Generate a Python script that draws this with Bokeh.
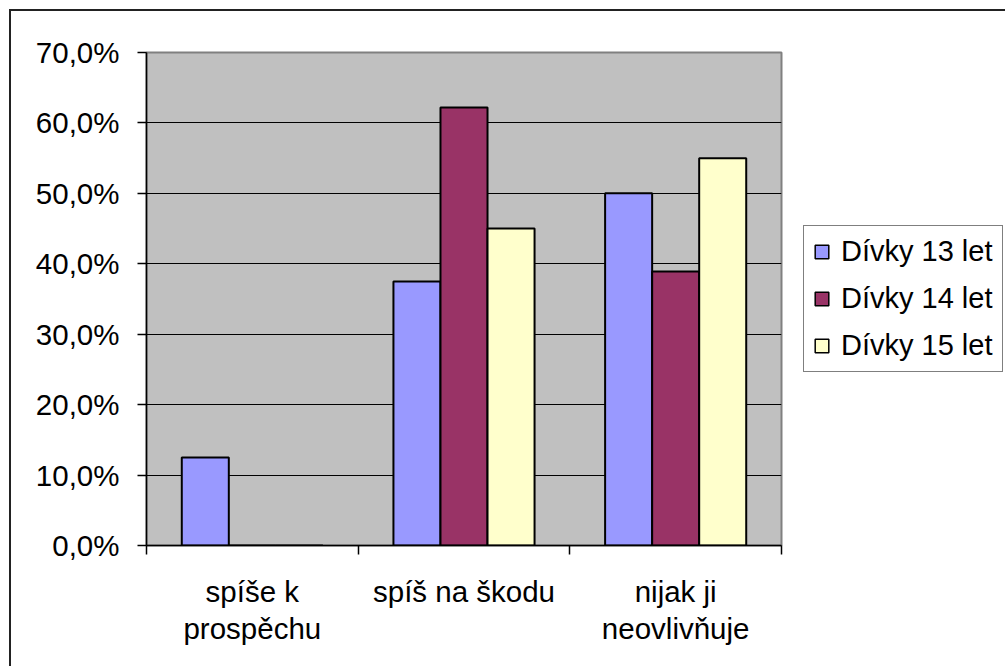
from bokeh.plotting import figure
from bokeh.layouts import row
from bokeh.models import Range1d, FixedTicker, ColumnDataSource, Legend, LegendItem
from bokeh.transform import dodge
from bokeh.embed import file_html
from bokeh.resources import INLINE

# ---- data ----
categories = ["spíše k\nprospěchu", "spíš na škodu", "nijak ji\nneovlivňuje"]
series_names = ["Dívky 13 let", "Dívky 14 let", "Dívky 15 let"]
girls_13 = [12.5, 37.5, 50.0]
girls_14 = [0.0, 62.2, 38.9]
girls_15 = [0.0, 45.0, 55.0]
y_ticks = [0, 10, 20, 30, 40, 50, 60, 70]
y_tick_labels = ["0,0%", "10,0%", "20,0%", "30,0%", "40,0%", "50,0%", "60,0%", "70,0%"]

# ---- style ----
colors = ["#9999FF", "#993366", "#FFFFCC"]
FONT = "Liberation Sans"
FS = "29.5px"
W1, W2, H = 792, 202, 655
ML, MT, MR, MB = 135, 41, 22, 121

series = [girls_13, girls_14, girls_15]
x_pos = [i + 0.5 for i in range(len(categories))]
bar_w = 1 / 4.5

p = figure(width=W1, height=H, x_range=Range1d(0, len(categories)), y_range=Range1d(y_ticks[0], y_ticks[-1]),
           output_backend="svg", toolbar_location=None,
           min_border_left=ML, min_border_top=MT, min_border_right=MR, min_border_bottom=MB)
p.background_fill_color = "#C0C0C0"
p.border_fill_color = "white"
p.outline_line_color = "#808080"
p.outline_line_width = 2

# y axis
p.yaxis.ticker = FixedTicker(ticks=y_ticks, minor_ticks=[])
p.yaxis.major_label_overrides = {t: l for t, l in zip(y_ticks, y_tick_labels)}
p.yaxis.major_tick_out = 9
p.yaxis.major_tick_in = 0
p.yaxis.major_label_standoff = 18
p.yaxis.axis_line_color = "black"
p.yaxis.axis_line_width = 1.5
p.yaxis.major_tick_line_color = "black"
p.yaxis.major_tick_line_width = 1.5
p.yaxis.major_label_text_font = FONT
p.yaxis.major_label_text_font_size = FS
p.yaxis.major_label_text_color = "black"

# x axis: labels at category centres, ticks at category boundaries
p.xaxis.ticker = FixedTicker(ticks=x_pos, minor_ticks=list(range(len(categories) + 1)))
p.xaxis.major_label_overrides = {x: c for x, c in zip(x_pos, categories)}
p.xaxis.major_tick_out = 0
p.xaxis.major_tick_in = 0
p.xaxis.minor_tick_out = 9
p.xaxis.minor_tick_in = 0
p.xaxis.minor_tick_line_color = "black"
p.xaxis.minor_tick_line_width = 1.5
p.xaxis.axis_line_color = "black"
p.xaxis.axis_line_width = 1.5
p.xaxis.major_label_standoff = 20
p.xaxis.major_label_text_font = FONT
p.xaxis.major_label_text_font_size = FS
p.xaxis.major_label_text_color = "black"
p.xaxis.major_label_text_line_height = 1.15

p.xgrid.visible = False
p.ygrid.ticker = FixedTicker(ticks=y_ticks, minor_ticks=[])
p.ygrid.grid_line_color = "black"
p.ygrid.grid_line_width = 1.2

for i, (vals, col) in enumerate(zip(series, colors)):
    src = ColumnDataSource(dict(x=x_pos, top=vals))
    p.vbar(x=dodge("x", (i - 1) * bar_w, range=p.x_range), top="top", width=bar_w,
           source=src, fill_color=col, line_color="black", line_width=2)

# legend panel (separate canvas to the right of the plot area)
p2 = figure(width=W2, height=H, x_range=Range1d(0, 1), y_range=Range1d(0, 1),
            output_backend="svg", toolbar_location=None,
            min_border_left=0, min_border_right=0, min_border_top=0, min_border_bottom=0)
p2.axis.visible = False
p2.grid.visible = False
p2.outline_line_color = None
p2.background_fill_color = "white"
p2.border_fill_color = "white"
items = []
nan = float("nan")
for name, col in zip(series_names, colors):
    r = p2.vbar(x=[nan], top=[nan], width=0.1, fill_color=col, line_color="black", line_width=1.5)
    items.append(LegendItem(label=name, renderers=[r]))

legend = Legend(items=items, location=(0, 173))
legend.border_line_color = "black"
legend.border_line_width = 1.2
legend.background_fill_color = "white"
legend.background_fill_alpha = 1
legend.label_text_font = FONT
legend.label_text_font_size = "29px"
legend.label_text_color = "black"
legend.glyph_width = 17
legend.glyph_height = 17
legend.label_standoff = 11
legend.label_height = 31
legend.padding = 9
legend.spacing = 14
legend.margin = 0
p2.add_layout(legend, "center")

layout = row(p, p2)
layout.styles = {"border-left": "2px solid #222", "border-top": "2px solid #222",
                 "margin-left": "9px", "margin-top": "9px"}

open("out.html", "w").write(file_html(layout, INLINE))
